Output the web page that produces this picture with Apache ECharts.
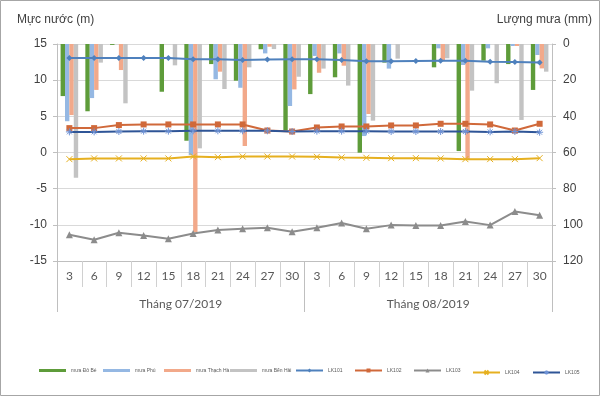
<!DOCTYPE html>
<html><head><meta charset="utf-8">
<script src="https://cdn.jsdelivr.net/npm/echarts@6/dist/echarts.min.js"></script>
<style>html,body{margin:0;padding:0;background:#fff}#c{width:600px;height:396px}</style>
</head><body><div id="c"></div>
<script>
var categories = ['3','6','9','12','15','18','21','24','27','30','3','6','9','12','15','18','21','24','27','30'];
var months = ['Tháng 07/2019','Tháng 08/2019'];
var leftTicks = [-15, 15, 5];
var rightTicks = [0, 120, 20];
var rainNames = ['mưa Đô Bé','mưa Phú','mưa Thạch Hà','mưa Bến Hải'];
var levelNames = ['LK101','LK102','LK103','LK104','LK105'];
var rainGreen = [28.8,37.2,0.5,0,26.4,53.5,11.1,20.3,2.9,47.6,27.7,18.4,60.1,10.3,0,12.9,59.2,9.2,11.1,25.4];
var rainBlue = [42.7,29.9,0,0,0,61.4,19.5,24.2,5.2,34.3,6.6,5.2,50.9,13.6,0,2.4,11.6,2.4,1.1,6.1];
var rainSalmon = [39.3,25.4,14.4,0,0,104,15.3,56.4,1.5,25.1,15.9,12.0,38.7,0,0,9.2,63.6,0,1.1,13.5];
var rainGray = [74,10.3,32.8,0,11.8,57.7,24.9,12.9,2.8,18.1,13.6,23,42.4,8.1,0,7.9,25.8,21.7,42,15.3];
var levelDiamond = [13.05,13.05,13.05,13.05,13.05,12.9,12.9,12.8,12.85,12.9,12.9,12.8,12.6,12.6,12.65,12.7,12.7,12.55,12.5,12.45];
var levelSquare = [3.37,3.37,3.79,3.88,3.88,3.88,3.88,3.88,3.04,2.9,3.46,3.6,3.6,3.74,3.74,3.97,3.97,3.88,3.04,3.97];
var levelTriangle = [-11.38,-12.07,-11.1,-11.47,-11.93,-11.2,-10.73,-10.55,-10.41,-10.96,-10.41,-9.76,-10.55,-10.04,-10.09,-10.09,-9.54,-10.04,-8.16,-8.66];
var levelCross = [-0.92,-0.82,-0.82,-0.82,-0.82,-0.55,-0.64,-0.55,-0.55,-0.55,-0.6,-0.68,-0.73,-0.78,-0.78,-0.82,-0.92,-0.92,-0.92,-0.78];
var levelStar = [2.85,2.85,2.9,2.95,2.95,3.0,3.0,3.0,3.0,2.9,2.95,2.95,2.95,2.9,2.9,2.9,2.9,2.85,2.9,2.8];

var barColors = ['#5e9c3a','#95b8e3','#f2a98a','#c3c3c3'];
var lineColors = ['#4f81bd','#d0693a','#8c8c8c','#e6b020','#2f5597'];
var CROSS = 'path://M0,0L10,10M10,0L0,10';
var STAR = 'path://M5,0L5,10M0,5L10,5M1.5,1.5L8.5,8.5M8.5,1.5L1.5,8.5';

var chart = echarts.init(document.getElementById('c'));
var rainData = [rainGreen, rainBlue, rainSalmon, rainGray];
var series = [];
rainData.forEach(function(d,i){
  series.push({name: rainNames[i], type:'bar', xAxisIndex:0, yAxisIndex:1, data:d,
    barGap:'0%', barCategoryGap:'29%', itemStyle:{color:barColors[i]}, z:1});
});
var levelData = [levelDiamond, levelSquare, levelTriangle, levelCross, levelStar];
var symbols = ['diamond','rect','triangle',CROSS,STAR];
var sizes = [6,6,7,6,7];
levelData.forEach(function(d,i){
  var path = (i>=3);
  series.push({name: levelNames[i], type:'line', xAxisIndex:0, yAxisIndex:0, data:d,
    symbol: symbols[i], symbolSize: sizes[i], showAllSymbol:true,
    lineStyle:{color: lineColors[i], width:2},
    itemStyle: path ? {color:'none', borderColor: i===4?'#6f93d6':lineColors[i], borderWidth:1}
                    : {color: lineColors[i], borderWidth:0},
    z:3});
});

var legendX = [34, 98, 159, 225, 290, 349, 408, 467, 527];
var allNames = rainNames.concat(levelNames);
var legends = allNames.map(function(n,i){
  return {data:[n], left: legendX[i], top: 363, itemWidth: 27, itemHeight: i<4 ? 3 : 5,
    itemGap: 3, textStyle:{fontSize:5, color:'#595959', fontFamily:'Liberation Sans'}, selectedMode:false,
    icon: i<4 ? 'rect' : undefined};
});

chart.setOption({
  animation:false,
  backgroundColor:'#fff',
  grid:{left:57, right:48, top:44, bottom:135},
  legend: legends,
  graphic:[
    {type:'rect', shape:{x:0.5,y:0.5,width:599,height:395}, style:{fill:'none', stroke:'#a6a6a6', lineWidth:1}, silent:true},
    {type:'text', left:17, top:14, style:{text:'Mực nước (m)', fontSize:12, fill:'#404040', fontFamily:'Liberation Sans'}},
    {type:'text', right:8, top:14, style:{text:'Lượng mưa (mm)', fontSize:12, fill:'#404040', fontFamily:'Liberation Sans'}}
  ],
  xAxis:[
    {type:'category', data:categories, position:'bottom', boundaryGap:true,
      axisLine:{show:true, onZero:false, lineStyle:{color:'#bfbfbf'}},
      axisTick:{show:true, interval:0, alignWithLabel:false, length:26, lineStyle:{color:'#d0d0d0'}},
      axisLabel:{interval:0, margin:9, fontSize:12, color:'#595959', fontFamily:'Lato'}},
    {type:'category', data:months, position:'bottom', boundaryGap:true,
      axisLine:{show:false, onZero:false},
      axisTick:{show:true, interval:0, alignWithLabel:false, length:51, lineStyle:{color:'#bfbfbf'}},
      axisLabel:{interval:0, margin:37, fontSize:12, color:'#595959', fontFamily:'Lato'}}
  ],
  yAxis:[
    {type:'value', min:leftTicks[0], max:leftTicks[1], interval:leftTicks[2], position:'left',
      axisLine:{show:true, lineStyle:{color:'#bfbfbf'}},
      axisTick:{show:true, length:4, lineStyle:{color:'#bfbfbf'}},
      splitLine:{show:true, lineStyle:{color:'#d9d9d9'}},
      axisLabel:{margin:10, fontSize:12, color:'#404040', fontFamily:'Liberation Sans'}},
    {type:'value', min:rightTicks[0], max:rightTicks[1], interval:rightTicks[2], position:'right', inverse:true,
      axisLine:{show:true, lineStyle:{color:'#bfbfbf'}},
      axisTick:{show:true, length:4, lineStyle:{color:'#bfbfbf'}},
      splitLine:{show:false},
      axisLabel:{margin:11, fontSize:12, color:'#404040', fontFamily:'Liberation Sans'}}
  ],
  series: series
});
</script></body></html>
